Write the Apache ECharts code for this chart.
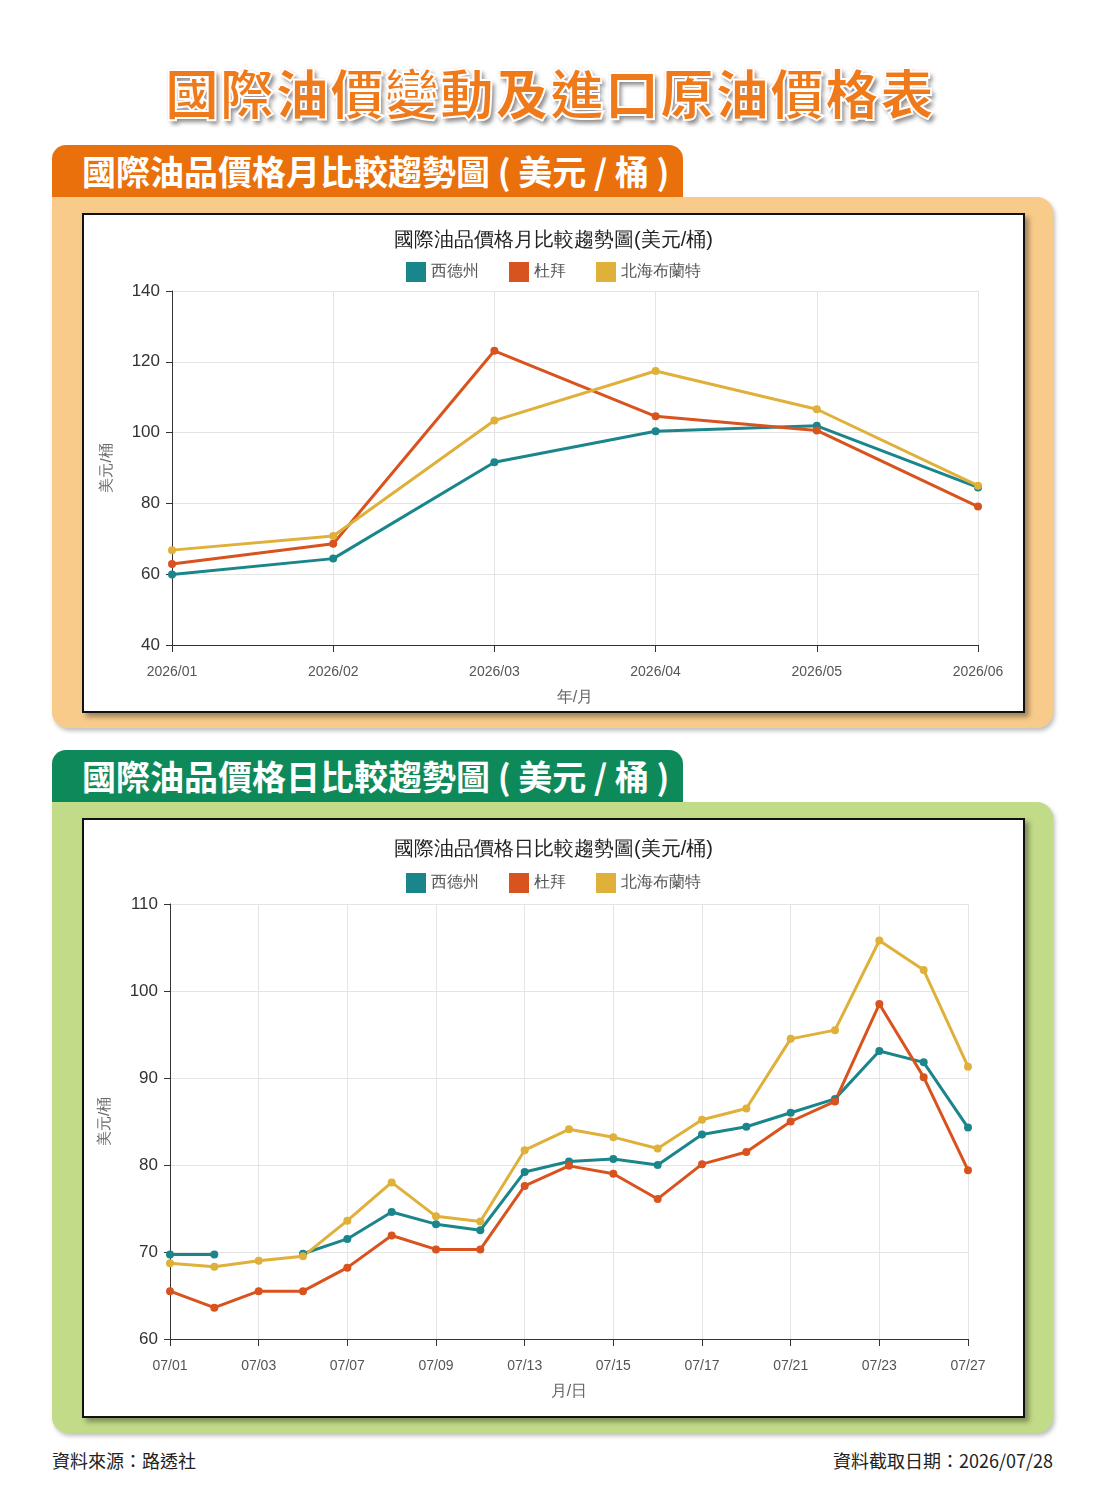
<!DOCTYPE html>
<html><head><meta charset="utf-8">
<script src="https://cdn.jsdelivr.net/npm/echarts@6/dist/echarts.min.js"></script>
<style>
body{margin:0;width:1100px;height:1505px;background:#fff;font-family:"Noto Sans CJK TC","Noto Sans",sans-serif;position:relative;overflow:hidden}
.main-title{position:absolute;left:0;width:1100px;top:52px;text-align:center;font-size:54px;font-weight:900;color:#f07a1a;
 -webkit-text-stroke:2px #fff;text-shadow:0 0 2px #c55,3px 4px 4px rgba(0,0,0,.45);letter-spacing:1px}
.tab{position:absolute;left:52px;width:631px;height:52px;border-radius:14px 14px 0 0;color:#fff;font-size:34px;font-weight:700;padding-left:30px;box-sizing:border-box;line-height:52px;font-family:"Noto Sans CJK TC",serif}
.panel{position:absolute;left:52px;width:1001px;height:531px;border-radius:0 16px 16px 16px;box-shadow:2px 3px 4px rgba(0,0,0,.25)}
.box{position:absolute;left:82px;width:943px;height:500px;background:#fff;border:2px solid #111;box-sizing:border-box;box-shadow:4px 4px 5px rgba(0,0,0,.35)}
.foot{position:absolute;top:1447px;font-size:18px;color:#222}
</style></head><body>
<div class="main-title">國際油價變動及進口原油價格表</div>
<div class="tab" style="top:145px;background:#e9700b">國際油品價格月比較趨勢圖 ( 美元 / 桶 )</div>
<div class="panel" style="top:197px;background:#f8cb8b"></div>
<div class="box" id="c1" style="top:213px"></div>
<div class="tab" style="top:750px;background:#0e8a5a">國際油品價格日比較趨勢圖 ( 美元 / 桶 )</div>
<div class="panel" style="top:802px;height:631px;background:#c2db88"></div>
<div class="box" id="c2" style="top:818px;height:600px"></div>
<div class="foot" style="left:52px">資料來源：路透社</div>
<div class="foot" style="right:47px">資料截取日期：2026/07/28</div>
<script>
// 月資料
const monthCats = ['2026/01','2026/02','2026/03','2026/04','2026/05','2026/06'];
const monthWTI = [59.9, 64.4, 91.6, 100.4, 101.9, 84.5];
const monthDubai = [62.9, 68.6, 123.1, 104.6, 100.6, 79.1];
const monthBrent = [66.8, 70.8, 103.4, 117.4, 106.6, 85.0];
// 日資料
const dayCats = ['07/01','07/02','07/03','07/06','07/07','07/08','07/09','07/10','07/13','07/14','07/15','07/16','07/17','07/20','07/21','07/22','07/23','07/24','07/27'];
const dayWTI = [69.7, 69.7, null, 69.8, 71.5, 74.6, 73.2, 72.5, 79.2, 80.4, 80.7, 80.0, 83.5, 84.4, 86.0, 87.6, 93.1, 91.8, 84.3];
const dayDubai = [65.5, 63.6, 65.5, 65.5, 68.2, 71.9, 70.3, 70.3, 77.6, 79.9, 79.0, 76.1, 80.1, 81.5, 85.0, 87.3, 98.5, 90.1, 79.4];
const dayBrent = [68.7, 68.3, 69.0, 69.5, 73.6, 78.0, 74.1, 73.5, 81.7, 84.1, 83.2, 81.9, 85.2, 86.5, 94.5, 95.5, 105.8, 102.4, 91.3];
const names = ['西德州','杜拜','北海布蘭特'];
const colors = ['#1a868b','#d9531e','#dfb03a'];

function makeOption(title, cats, vals, yMin, yMax, step, xName, grid, titleTop, legendTop, everyOther) {
  return {
    color: colors,
    title: { text: title, left: 'center', top: titleTop, textStyle: { fontSize: 20, fontWeight: 'normal', color: '#222' } },
    legend: { top: legendTop, left: 'center', itemWidth: 20, itemHeight: 20, itemGap: 30, icon: 'rect',
      textStyle: { fontSize: 16, color: '#555' }, data: names },
    grid: grid,
    xAxis: {
      type: 'category', data: cats, boundaryGap: false, name: xName, nameLocation: 'middle', nameGap: 45,
      nameTextStyle: { fontSize: 16, color: '#666' },
      axisLine: { lineStyle: { color: '#333' } },
      axisTick: { length: 7, interval: everyOther ? 1 : 0, lineStyle: { color: '#333' } },
      axisLabel: { interval: everyOther ? 1 : 0, fontSize: 14, color: '#555', margin: 20 },
      splitLine: { show: true, interval: everyOther ? 1 : 0, lineStyle: { color: '#e4e4e4' } }
    },
    yAxis: {
      type: 'value', min: yMin, max: yMax, interval: step, name: '美元/桶', nameLocation: 'middle', nameGap: 58,
      nameTextStyle: { fontSize: 15, color: '#666' },
      axisLine: { show: true, lineStyle: { color: '#333' } },
      axisTick: { show: true, length: 6 },
      axisLabel: { fontSize: 17, color: '#333', margin: 12 },
      splitLine: { lineStyle: { color: '#e4e4e4' } }
    },
    series: vals.map((d, i) => ({ name: names[i], type: 'line', data: d, symbol: 'circle', symbolSize: 8,
      lineStyle: { width: 3 }, connectNulls: false }))
  };
}
const ch1 = echarts.init(document.getElementById('c1'));
ch1.setOption(makeOption('國際油品價格月比較趨勢圖(美元/桶)', monthCats, [monthWTI, monthDubai, monthBrent],
  40, 140, 20, '年/月', { left: 88, right: 45, top: 76, bottom: 64 }, 10, 42, false));
const ch2 = echarts.init(document.getElementById('c2'));
ch2.setOption(makeOption('國際油品價格日比較趨勢圖(美元/桶)', dayCats, [dayWTI, dayDubai, dayBrent],
  60, 110, 10, '月/日', { left: 86, right: 55, top: 84, bottom: 77 }, 14, 48, true));
</script>
</body></html>
